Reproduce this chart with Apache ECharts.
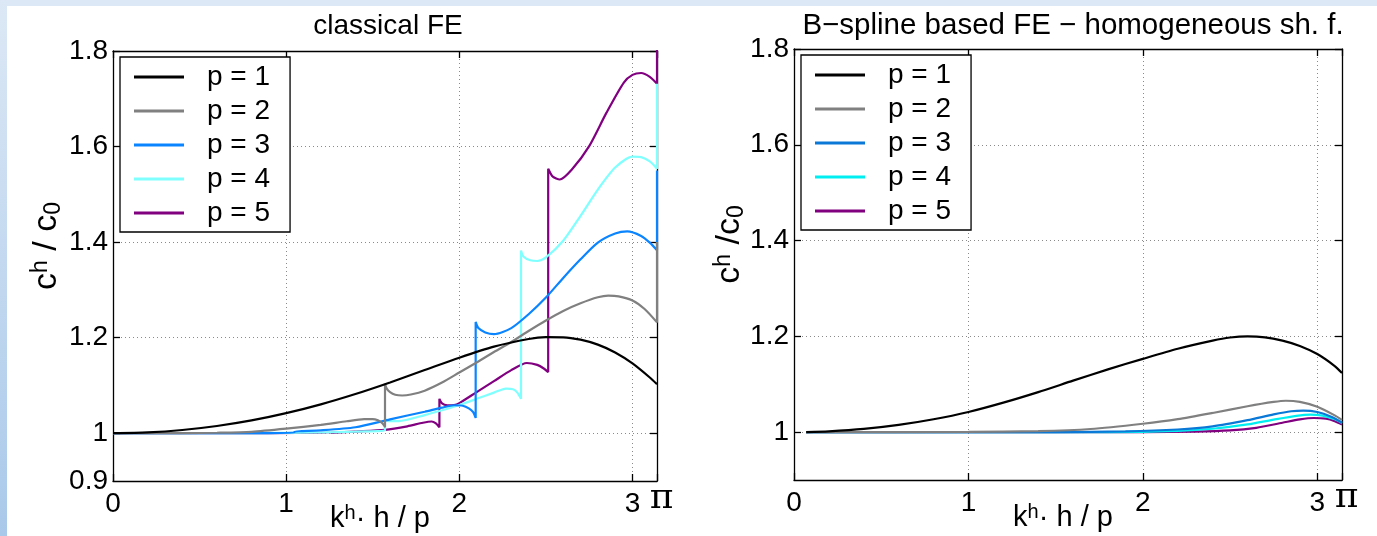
<!DOCTYPE html>
<html><head><meta charset="utf-8">
<script src="https://cdn.jsdelivr.net/npm/echarts@6/dist/echarts.min.js"></script>
<style>
html,body{margin:0;padding:0;background:#fff;overflow:hidden;}
#bgTop{position:absolute;left:0;top:0;width:1377px;height:6px;background:#dce8f5;}
#bgLeft{position:absolute;left:0;top:0;width:7px;height:536px;background:linear-gradient(#dce8f5,#a9c9ea);}
#chart{position:absolute;left:0;top:0;width:1377px;height:536px;}
</style></head><body>
<div id="bgTop"></div><div id="bgLeft"></div><div id="chart"></div>
<script>
// ---- data ----
const names = ['p = 1', 'p = 2', 'p = 3', 'p = 4', 'p = 5'];
const titleFE = 'classical FE';
const titleBS = 'B\u2212spline based FE \u2212 homogeneous sh. f.';
const xTickValues = [0, 1, 2, 3];
const yTickValues = [1, 1.2, 1.4, 1.6, 1.8];
const yLabelsFE = [0.9, 1, 1.2, 1.4, 1.6, 1.8];
const yLabelsBS = [1, 1.2, 1.4, 1.6, 1.8];

// classical FE (left)
const fe1 = [[0,1],[0.2,1.0017],[0.4,1.0067],[0.6,1.0151],[0.8,1.0268],[1.0,1.0420],[1.2,1.0605],[1.4,1.0821],[1.6,1.1063],[1.8,1.1322],[2.0,1.1581],[2.2,1.1812],[2.4,1.1972],[2.5,1.2010],[2.6,1.2008],[2.7,1.1958],[2.8,1.1854],[2.9,1.1690],[3.0,1.1461],[3.1,1.1167],[3.1416,1.1027]];
const fe2 = [[0,1],[0.4,1.0002],[0.6,1.0010],[0.8,1.0030],[1.0,1.0095],[1.2,1.0175],[1.35,1.0250],[1.45,1.0293],[1.5,1.0295],[1.53,1.0270],[1.55,1.0225],[1.565,1.0165],[1.5708,1.0126],
  [1.5708,1.1035],[1.58,1.0940],[1.60,1.0860],[1.63,1.0805],[1.67,1.0790],[1.72,1.0810],[1.8,1.0890],[1.9,1.1060],[2.0,1.1270],[2.1,1.1480],[2.2,1.1700],[2.3,1.1910],[2.4,1.2140],[2.5,1.2360],[2.6,1.2560],[2.7,1.2720],[2.8,1.2845],[2.86,1.2880],[2.92,1.2865],[3.0,1.2780],[3.07,1.2600],[3.1416,1.2320],[3.1416,1.4000]];
const fe3 = [[0,1],[0.5,1.0000],[0.85,1.0003],[1.0472,1.0008],[1.0472,1.0035],[1.2,1.0060],[1.4,1.0125],[1.6,1.0290],[1.8,1.0450],[1.9,1.0535],[1.97,1.0585],[2.02,1.0575],[2.055,1.0520],[2.08,1.0440],[2.0944,1.0320],
  [2.0944,1.2330],[2.11,1.2200],[2.15,1.2110],[2.2,1.2075],[2.3,1.2200],[2.4,1.2490],[2.5,1.2840],[2.6,1.3250],[2.7,1.3640],[2.8,1.3990],[2.9,1.4180],[2.97,1.4225],[3.05,1.4130],[3.1,1.3990],[3.1416,1.3830],[3.1416,1.5500]];
const fe4 = [[0,1],[0.785,1.0000],[1.2,1.0015],[1.4,1.0035],[1.5708,1.0057],[1.5708,1.0300],[1.59,1.0255],[1.65,1.0255],[1.8,1.0380],[1.9,1.0480],[2.0,1.0590],[2.1,1.0720],[2.2,1.0850],[2.27,1.0935],[2.31,1.0920],[2.335,1.0850],[2.3562,1.0720],
  [2.3562,1.3825],[2.37,1.3700],[2.41,1.3620],[2.45,1.3605],[2.5,1.3680],[2.6,1.4030],[2.7,1.4550],[2.8,1.5100],[2.9,1.5560],[3.0,1.5790],[3.05,1.5780],[3.1,1.5690],[3.1416,1.5537],[3.1416,1.7317]];
const fe5 = [[0,1],[0.628,1.0000],[1.2566,1.0008],[1.2566,1.0020],[1.4,1.0035],[1.5708,1.0070],[1.7,1.0145],[1.79,1.0220],[1.84,1.0245],[1.865,1.0205],[1.885,1.0126],
  [1.885,1.0720],[1.9,1.0625],[1.93,1.0585],[1.97,1.0590],[2.0,1.0630],[2.1,1.0860],[2.2,1.1090],[2.3,1.1320],[2.39,1.1470],[2.45,1.1430],[2.49,1.1350],[2.5133,1.1280],
  [2.5133,1.5537],[2.54,1.5370],[2.58,1.5310],[2.65,1.5520],[2.75,1.6010],[2.85,1.6710],[2.95,1.7340],[3.0,1.7500],[3.05,1.7540],[3.1,1.7460],[3.1416,1.7317],[3.1416,1.9500]];

// B-spline based FE (right)
const bs1 = [[0.07,1.0000],[0.2,1.0016],[0.4,1.0066],[0.6,1.0150],[0.8,1.0268],[1.0,1.0420],[1.2,1.0615],[1.4,1.0835],[1.6,1.1075],[1.8,1.1310],[2.0,1.1530],[2.2,1.1740],[2.4,1.1910],[2.5,1.1975],[2.6,1.2000],[2.7,1.1980],[2.8,1.1910],[2.9,1.1800],[3.0,1.1630],[3.1,1.1380],[3.1416,1.1235]];
const bs2 = [[0.07,1.0000],[1.0,1.0003],[1.4,1.0020],[1.7,1.0065],[2.0,1.0175],[2.2,1.0270],[2.4,1.0400],[2.6,1.0540],[2.75,1.0630],[2.82,1.0655],[2.9,1.0630],[3.0,1.0530],[3.1,1.0350],[3.1416,1.0255]];
const bs3 = [[0.07,1.0000],[1.5,1.0000],[1.9,1.0015],[2.2,1.0055],[2.4,1.0120],[2.6,1.0250],[2.75,1.0370],[2.85,1.0435],[2.92,1.0450],[3.0,1.0420],[3.08,1.0320],[3.1416,1.0200]];
const bs4 = [[0.07,1.0000],[1.8,1.0000],[2.2,1.0025],[2.4,1.0070],[2.6,1.0160],[2.75,1.0260],[2.88,1.0340],[2.96,1.0365],[3.03,1.0345],[3.1,1.0270],[3.1416,1.0190]];
const bs5 = [[0.07,1.0000],[2.0,1.0000],[2.3,1.0010],[2.5,1.0035],[2.65,1.0090],[2.8,1.0195],[2.9,1.0265],[2.98,1.0295],[3.05,1.0280],[3.1,1.0230],[3.1416,1.0160]];

const feData = [fe1, fe2, fe3, fe4, fe5];
const bsData = [bs1, bs2, bs3, bs4, bs5];

// ---- styles ----
const colorsFE = ['#000000', '#808080', '#0a84ff', '#80ffff', '#800080'];
const colorsBS = ['#000000', '#808080', '#0a78d6', '#00eef2', '#800080'];
const FONT = '"Liberation Sans", Arial, Helvetica, sans-serif';
const AX = {color: '#000', width: 1.3};
const GRIDLINE = {color: '#8a8a8a', width: 1, type: [1, 3]};

const xNameRich = {
  b: {fontSize: 29, fontFamily: FONT, color: '#000', lineHeight: 31},
  sup: {fontSize: 20, fontFamily: FONT, color: '#000', lineHeight: 16, verticalAlign: 'top'}
};
const yNameRich = {
  b: {fontSize: 34, fontFamily: FONT, color: '#000', lineHeight: 36},
  sup: {fontSize: 23, fontFamily: FONT, color: '#000', lineHeight: 18, verticalAlign: 'top'},
  sub: {fontSize: 23, fontFamily: FONT, color: '#000', lineHeight: 18, verticalAlign: 'bottom'}
};

function fmtY(v) { return String(parseFloat(Number(v).toFixed(2))); }

function xMain(g) {
  return {
    type: 'value', gridIndex: g, min: 0, max: Math.PI, interval: 1,
    axisLine: {show: true, onZero: false, lineStyle: AX},
    axisTick: {show: true, inside: true, length: 7, lineStyle: AX},
    axisLabel: {
      show: true, margin: 9, color: '#000', fontSize: 28, fontFamily: FONT,
      showMinLabel: true, showMaxLabel: true, hideOverlap: false,
      formatter: v => (v > 3.1 ? '{pi|\u03c0}' : String(v)),
      rich: {pi: {fontSize: 36, lineHeight: 18, fontFamily: '"DejaVu Serif", serif', color: '#000', padding: [0, 0, 0, 9]}}
    },
    splitLine: {show: true, lineStyle: GRIDLINE},
    name: '{b|k}{sup|h}{b|\u00b7 h / p}', nameLocation: 'middle', nameGap: 22,
    nameMoveOverlap: false,
    nameTextStyle: {rich: xNameRich, padding: [0, 10, 0, 0]}
  };
}
function xTop(g) {
  return {
    type: 'value', gridIndex: g, position: 'top', min: 0, max: Math.PI, interval: 1,
    axisLine: {show: true, onZero: false, lineStyle: AX},
    axisTick: {show: true, inside: true, length: 7, lineStyle: AX},
    axisLabel: {show: false}, splitLine: {show: false}
  };
}
function yMain(g, labels, nameStr, gap, shift) {
  return {
    type: 'value', gridIndex: g, min: 0.9, max: 1.8,
    axisLine: {show: true, onZero: false, lineStyle: AX},
    axisTick: {show: true, inside: true, length: 7, lineStyle: AX, customValues: yTickValues},
    axisLabel: {show: true, margin: 5, color: '#000', fontSize: 28, fontFamily: FONT,
      customValues: labels, showMinLabel: true, showMaxLabel: true, formatter: fmtY},
    splitLine: {show: true, lineStyle: GRIDLINE},
    name: nameStr, nameLocation: 'middle', nameGap: gap, nameRotate: 90,
    nameMoveOverlap: false,
    nameTextStyle: {rich: yNameRich, padding: [0, 0, 0, shift]}
  };
}
function yRight(g) {
  return {
    type: 'value', gridIndex: g, position: 'right', min: 0.9, max: 1.8,
    axisLine: {show: true, onZero: false, lineStyle: AX},
    axisTick: {show: true, inside: true, length: 7, lineStyle: AX, customValues: yTickValues},
    axisLabel: {show: false}, splitLine: {show: false}
  };
}
function legendFor(left, top, colors) {
  return {
    orient: 'vertical', left: left, top: top, selectedMode: false,
    data: names.map((n, i) => ({name: n, itemStyle: {color: colors[i], borderWidth: 0}})),
    icon: 'rect', itemWidth: 50, itemHeight: 3, itemGap: 6,
    padding: [6, 20, 5, 14], borderColor: '#000', borderWidth: 1.3, backgroundColor: '#fff',
    textStyle: {fontSize: 28, fontFamily: FONT, color: '#000', lineHeight: 28, padding: [0, 0, 0, 18]}
  };
}

const series = [];
feData.forEach((d, i) => series.push({
  name: names[i], type: 'line', xAxisIndex: 0, yAxisIndex: 0, data: d,
  showSymbol: false, smooth: 0.25, clip: true, z: 10 - i,
  lineStyle: {color: colorsFE[i], width: 2.2}, itemStyle: {color: colorsFE[i]}
}));
bsData.forEach((d, i) => series.push({
  name: names[i], type: 'line', xAxisIndex: 2, yAxisIndex: 2, data: d,
  showSymbol: false, smooth: 0.25, clip: true, z: 10 - i,
  lineStyle: {color: colorsBS[i], width: 2.2}, itemStyle: {color: colorsBS[i]}
}));

const chart = echarts.init(document.getElementById('chart'), null, {renderer: 'canvas'});
chart.setOption({
  animation: false,
  title: [
    {text: titleFE, left: 383, top: 7, textAlign: 'center',
     textStyle: {fontSize: 28, fontWeight: 'normal', fontFamily: FONT, color: '#000'}},
    {text: titleBS, left: 1068, top: 6, textAlign: 'center',
     textStyle: {fontSize: 29.5, fontWeight: 'normal', fontFamily: FONT, color: '#000'}}
  ],
  grid: [
    {left: 113, top: 51, width: 544, height: 430, containLabel: false, outerBoundsMode: 'none'},
    {left: 794, top: 49, width: 548, height: 431, containLabel: false, outerBoundsMode: 'none'}
  ],
  xAxis: [xMain(0), xTop(0), xMain(1), xTop(1)],
  yAxis: [
    yMain(0, yLabelsFE, '{b|c}{sup|h}{b| / c}{sub|0}', 48, 40), yRight(0),
    yMain(1, yLabelsBS, '{b|c}{sup|h}{b| /c}{sub|0}', 46, 40), yRight(1)
  ],
  legend: [legendFor(120, 57, colorsFE), legendFor(801, 55, colorsBS)],
  series: series
});
</script>
</body></html>
